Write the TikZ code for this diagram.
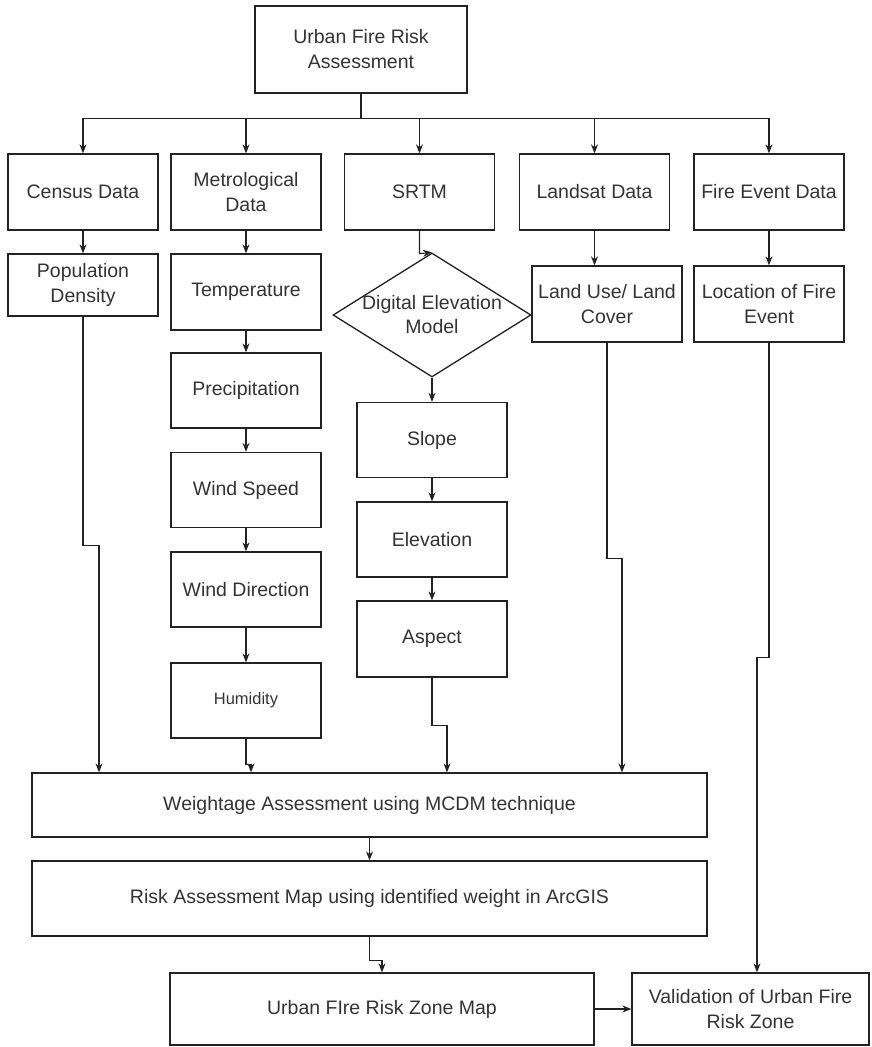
\documentclass[tikz,border=0pt]{standalone}
\usepackage{fontspec}
\setmainfont{Liberation Sans}
\usetikzlibrary{arrows.meta,shapes.geometric}
\definecolor{ln}{HTML}{222222}
\definecolor{tx}{HTML}{333333}
\begin{document}
\begin{tikzpicture}[x=1pt,y=-1pt,
  box/.style={draw=ln,line width=1.3pt,rectangle,inner sep=0pt,align=center,text=tx,
    font=\fontsize{19.5}{25}\selectfont},
  sbox/.style={box,minimum width=150pt,minimum height=75pt},
  arr/.style={draw=ln,line width=1.1pt,-{Stealth[length=9pt,width=7pt]}},
  ln/.style={draw=ln,line width=1.1pt}]
\useasboundingbox (0,0) rectangle (871,1047);
\fill[white] (0,0) rectangle (871,1047);
% top
\node[box,minimum width=212pt,minimum height=87pt] (top) at (361,49.5) {Urban Fire Risk\\Assessment};
% row 1
\node[sbox,minimum height=76pt] (census) at (83,192) {Census Data};
\node[sbox,minimum height=76pt] (metro) at (246,192) {Metrological\\Data};
\node[sbox,minimum height=76pt] (srtm) at (419.5,192) {SRTM};
\node[sbox,minimum height=76pt] (landsat) at (594.5,192) {Landsat Data};
\node[sbox,minimum height=76pt] (fire) at (769,192) {Fire Event Data};
% row 2
\node[sbox,minimum height=62pt] (pop) at (83,285) {Population\\Density};
\node[sbox,minimum height=76pt] (temp) at (246,292) {Temperature};
\node[draw=ln,line width=1.3pt,diamond,minimum width=198pt,minimum height=124pt,inner sep=0pt] (dem) at (432,315) {};
\node[text=tx,align=center,font=\fontsize{19.5}{24}\selectfont] (demt) at (dem.center) {Digital Elevation\\Model};
\node[sbox,minimum height=76pt] (landuse) at (607,304) {Land Use/ Land\\Cover};
\node[sbox,minimum height=76pt] (loc) at (769,304) {Location of Fire\\Event};
% meteorological chain
\node[sbox] (precip) at (246,390.5) {Precipitation};
\node[sbox] (wspeed) at (246,490) {Wind Speed};
\node[sbox] (wdir) at (246,589.5) {Wind Direction};
\node[sbox,font=\fontsize{16.5}{20}\selectfont] (hum) at (246,700.5) {Humidity};
% DEM chain
\node[sbox] (slope) at (432,440) {Slope};
\node[sbox] (elev) at (432,539.5) {Elevation};
\node[sbox,minimum height=76pt] (aspect) at (432,639) {Aspect};
% bottom
\node[box,minimum width=675pt,minimum height=64pt] (weight) at (369.5,805) {Weightage Assessment using MCDM technique};
\node[box,minimum width=675pt,minimum height=75pt] (risk) at (369.5,898.5) {Risk Assessment Map using identified weight in ArcGIS};
\node[box,minimum width=424pt,minimum height=72pt] (zone) at (382,1009) {Urban FIre Risk Zone Map};
\node[box,minimum width=237pt,minimum height=72pt] (valid) at (750.5,1009) {Validation of Urban Fire\\Risk Zone};
% connectors from top
\draw[ln] (top.south) -- ++(0,25) coordinate (hub);
\draw[arr] (hub) -| (census.north);
\draw[arr] (hub) -| (metro.north);
\draw[arr] (hub) -| (srtm.north);
\draw[arr] (hub) -| (landsat.north);
\draw[arr] (hub) -| (fire.north);
% row1 -> row2
\draw[arr] (census) -- (pop);
\draw[arr] (metro) -- (temp);
\draw[arr] (srtm.south) -- ++(0,23) -- (dem.north);
\draw[arr] (landsat.south) -- (landsat.south |- landuse.north);
\draw[arr] (fire) -- (loc);
% chains
\draw[arr] (temp) -- (precip);
\draw[arr] (precip) -- (wspeed);
\draw[arr] (wspeed) -- (wdir);
\draw[arr] (wdir) -- (hum);
\draw[arr] (dem.south) -- (slope.north);
\draw[arr] (slope) -- (elev);
\draw[arr] (elev) -- (aspect);
% into weightage
\draw[arr] (pop.south) -- ++(0,229) -- ++(16,0) -- (99,0 |- weight.north);
\draw[arr] (hum.south) -- ++(0,26) -- ++(5,0) -- (251,0 |- weight.north);
\draw[arr] (aspect.south) -- ++(0,48) -- ++(15,0) -- (447,0 |- weight.north);
\draw[arr] (landuse.south) -- ++(0,216) -- ++(15,0) -- (622,0 |- weight.north);
% lower flow
\draw[arr] (weight.south) -- (risk.north);
\draw[arr] (risk.south) -- ++(0,24) -| (zone.north);
\draw[arr] (zone.east) -- (valid.west);
\draw[arr] (loc.south) -- ++(0,315) -- ++(-12,0) -- (757,0 |- valid.north);
\end{tikzpicture}
\end{document}
